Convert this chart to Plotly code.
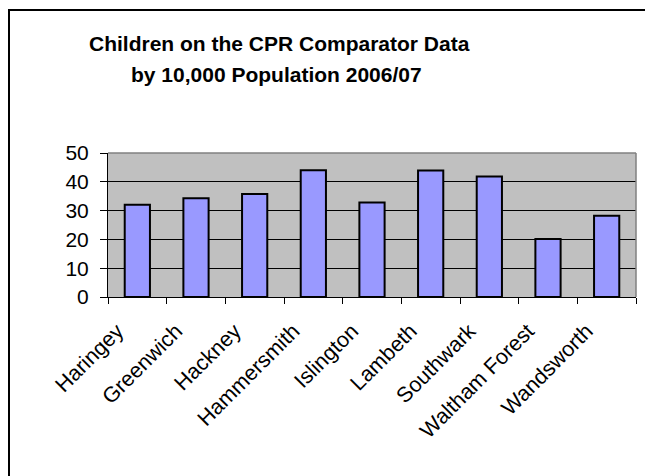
import plotly.graph_objects as go

categories = ["Haringey", "Greenwich", "Hackney", "Hammersmith", "Islington",
              "Lambeth", "Southwark", "Waltham Forest", "Wandsworth"]
values = [32, 34.3, 35.8, 44, 32.8, 43.9, 41.8, 20.1, 28.2]
y_ticks = [0, 10, 20, 30, 40, 50]
title_lines = ["Children on the CPR Comparator Data", "by 10,000 Population 2006/07"]

# page body has an 8px margin; figure origin sits at window (8, 8)
W, H = 645, 468
L, T = 100, 145
R = W - 628
B = H - 289
pw, ph = W - L - R, H - T - B


def px_x(wx):
    return (wx - 8 - L) / pw


def px_y(wy):
    return (T + ph - (wy - 8)) / ph


fig = go.Figure()
fig.add_trace(go.Bar(
    x=categories, y=values,
    marker=dict(color="#9999ff", line=dict(color="black", width=2)),
    width=0.43,
))

title_font = dict(size=21, family="Liberation Sans, Arial, sans-serif", color="black", weight="bold")
annotations = [
    dict(text=title_lines[0], xref="paper", yref="paper", x=px_x(279), y=px_y(43),
         xanchor="center", yanchor="middle", showarrow=False, font=title_font),
    dict(text=title_lines[1], xref="paper", yref="paper", x=px_x(276), y=px_y(75),
         xanchor="center", yanchor="middle", showarrow=False, font=title_font),
]

fig.update_layout(
    width=W, height=H,
    margin=dict(l=L, r=R, t=T, b=B, autoexpand=False),
    paper_bgcolor="white",
    plot_bgcolor="#c0c0c0",
    showlegend=False,
    font=dict(family="Liberation Sans, Arial, sans-serif", color="black"),
    annotations=annotations,
    xaxis=dict(
        tickangle=-45,
        tickfont=dict(size=21.5),
        showline=True, linecolor="black", linewidth=1,
        ticks="outside", ticklen=6, tickcolor="black",
        tickson="boundaries",
        showgrid=False,
        range=[-0.5, len(categories) - 0.5],
        ticklabelshift=-20,
        ticklabelstandoff=12,
    ),
    yaxis=dict(
        range=[0, 50],
        tickvals=y_ticks,
        tickfont=dict(size=21),
        showline=True, linecolor="black", linewidth=1,
        ticks="outside", ticklen=7, tickcolor="black",
        showgrid=True, gridcolor="black", gridwidth=1,
        zeroline=False,
        ticklabelstandoff=7,
    ),
    shapes=[
        dict(type="line", xref="paper", yref="paper", x0=0, x1=1, y0=1, y1=1,
             line=dict(color="#808080", width=1.5)),
        dict(type="line", xref="paper", yref="paper", x0=1, x1=1, y0=0, y1=1,
             line=dict(color="#808080", width=1.5)),
        dict(type="rect", xref="paper", yref="paper",
             x0=(1 - L) / pw, x1=(W + 30 - L) / pw,
             y0=(T + ph - (H + 30)) / ph, y1=(T + ph - 2) / ph,
             line=dict(color="black", width=2), fillcolor="rgba(0,0,0,0)"),
    ],
)

fig.write_html("out.html")
